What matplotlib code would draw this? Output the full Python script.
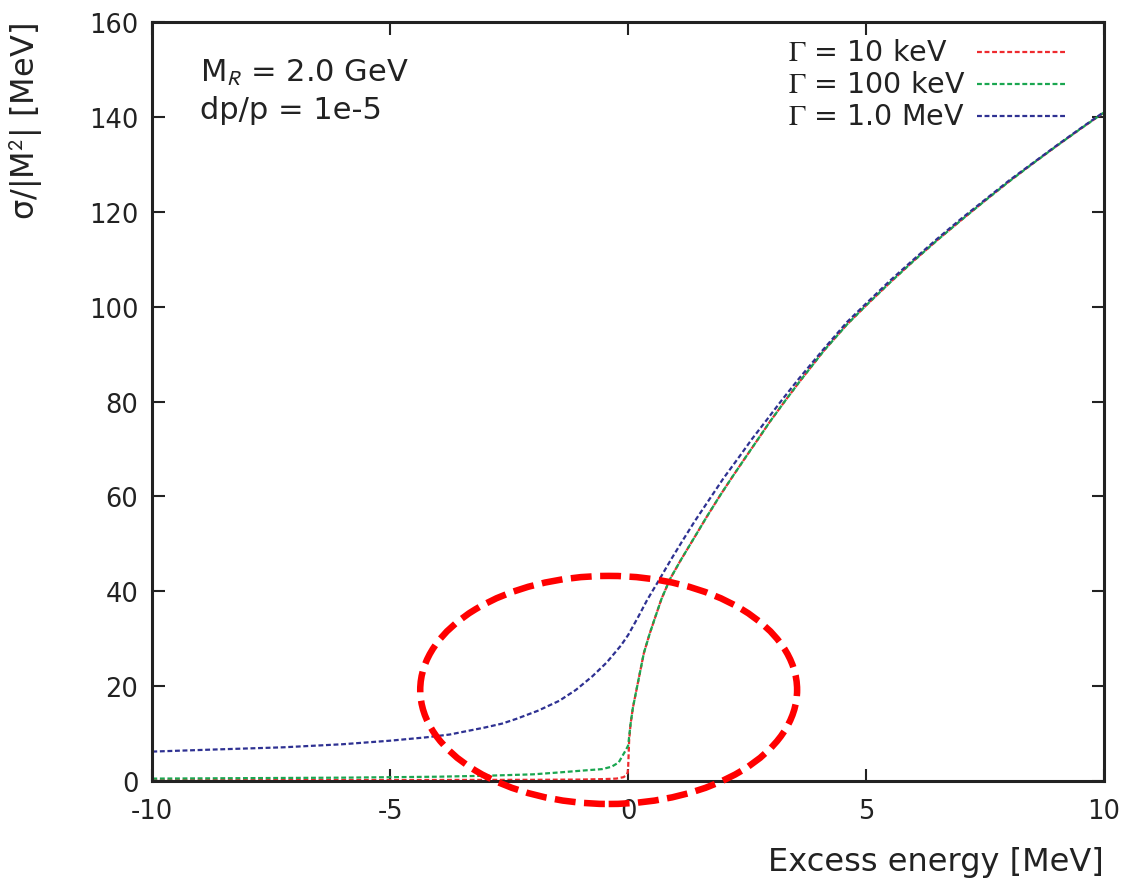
import numpy as np
import matplotlib
matplotlib.use("Agg")
import matplotlib.pyplot as plt
from matplotlib.patches import Ellipse
from matplotlib.lines import Line2D

# Fonts: sans text, serif Gamma via stix mathtext
plt.rcParams['font.family'] = ['DejaVu Sans']
plt.rcParams['mathtext.fontset'] = 'stix'
plt.rcParams['axes.unicode_minus'] = False

# Curve values
# Gamma = 1.0 MeV (blue)
e_blue = [-10, -8.5, -7.25, -6, -5, -4.25, -3.75, -3, -2.65, -2.35, -1.9, -1.45,
          -1.1, -0.75, -0.45, -0.15, 0.0, 0.2, 0.4, 0.65, 0.9, 1.15, 1.4, 1.7,
          2.0, 2.35, 2.6, 2.9, 3.25, 3.6, 4.1, 4.6, 5.0, 5.5, 6.0, 6.5, 7.0,
          7.5, 8.0, 8.5, 9.0, 9.5, 10]
s_blue = [6.2, 6.7, 7.1, 7.75, 8.5, 9.2, 9.8, 11.3, 12.1, 13.1, 14.8, 16.9,
          19.2, 22.1, 25.0, 28.6, 30.8, 34.4, 38.2, 42.4, 46.7, 50.8, 54.8, 59.3,
          63.8, 68.6, 72.1, 76.0, 80.6, 85.0, 91.0, 96.8, 100.7, 105.5, 110.0, 114.4, 118.6,
          122.6, 126.6, 130.3, 134.0, 137.6, 141.1]

# Gamma = 100 keV (green)
e_green = [-10, -8, -6, -5, -4, -3, -2, -1.45, -0.95, -0.55, -0.35, -0.2, -0.12,
           -0.05, 0.0, 0.05, 0.1, 0.19, 0.33, 0.45, 0.56, 0.7, 0.88, 1.1, 1.37,
           1.65, 1.93, 2.2, 2.49, 2.75, 2.98, 3.3, 3.6, 4.1, 4.6, 5.0, 5.5, 6.0,
           6.5, 7.0, 7.5, 8.0, 8.5, 9.0, 9.5, 10]
s_green = [0.5, 0.6, 0.7, 0.8, 0.9, 1.1, 1.4, 1.8, 2.2, 2.5, 3.0, 3.9, 5.3,
           6.5, 7.5, 12.0, 15.5, 20.0, 27.0, 31.0, 34.3, 38.4, 42.6, 46.5, 51.0,
           55.7, 60.2, 64.3, 68.6, 72.4, 75.8, 80.2, 84.2, 90.6, 96.3, 100.3, 105.1, 109.7,
           114.1, 118.3, 122.4, 126.4, 130.2, 133.9, 137.5, 141.0]

# Gamma = 10 keV (red)
e_red = [-10, -5, -2, -1, -0.5, -0.25, -0.1, -0.04, -0.01, 0.0, 0.02, 0.05, 0.1,
         0.19, 0.33, 0.45, 0.56, 0.7, 0.88, 1.1, 1.37, 1.65, 1.93, 2.2, 2.49,
         2.75, 2.98, 3.3, 3.6, 4.1, 4.6, 5.0, 5.5, 6.0, 6.5, 7.0, 7.5, 8.0,
         8.5, 9.0, 9.5, 10]
s_red = [0.15, 0.2, 0.25, 0.3, 0.4, 0.5, 0.8, 1.2, 1.8, 3.0, 8.5, 12.0, 15.5,
         20.0, 27.0, 31.0, 34.3, 38.4, 42.6, 46.5, 51.0, 55.7, 60.2, 64.3, 68.6,
         72.4, 75.8, 80.2, 84.2, 90.6, 96.3, 100.3, 105.1, 109.7, 114.1, 118.3, 122.4, 126.4,
         130.2, 133.9, 137.5, 141.0]

labels = [r'$\Gamma$ = 10 keV', r'$\Gamma$ = 100 keV', r'$\Gamma$ = 1.0 MeV']
colors = ['#ee2a2e', '#1aa650', '#2e3192']

# Highlight ellipse (centre, width, height in data units)
ell_center = (-0.41, 19.2)
ell_width = 7.92
ell_height = 48.1

txt_col = '#222222'
fig = plt.figure(figsize=(11.41, 8.87), dpi=100)
ax = fig.add_axes([0.1335, 0.1184, 0.8341, 0.8553])

dash = (0, (2.2, 1.2))
for e, s, c in zip([e_red, e_green, e_blue], [s_red, s_green, s_blue], colors):
    ax.plot(e, s, color=c, lw=1.6, linestyle=dash)

ax.add_patch(Ellipse(ell_center, ell_width, ell_height, fill=False,
                     edgecolor='#ff0000', lw=4.7, linestyle=(0, (3.2, 1.3)),
                     clip_on=False, zorder=5))

ax.set_xlim(-10, 10)
ax.set_ylim(0, 160)
ax.set_xticks([-10, -5, 0, 5, 10])
ax.set_yticks(np.arange(0, 161, 20))
ax.tick_params(direction='in', length=9, width=1.5, top=True, right=True,
               labelsize=18.5, colors=txt_col)
ax.tick_params(axis='x', pad=12)
ax.tick_params(axis='y', pad=10)
for sp in ax.spines.values():
    sp.set_linewidth(2.2)
    sp.set_color(txt_col)

ax.set_xlabel('Excess energy [MeV]', fontsize=23, loc='right', color=txt_col, labelpad=16)
ax.set_ylabel(r'σ/|M$^\mathsf{2}$| [MeV]', fontsize=23, loc='top', color=txt_col)
ax.yaxis.set_label_coords(-0.113, 1.0)

ax.text(0.05, 0.935, r'M$_\mathsf{R}$ = 2.0 GeV', transform=ax.transAxes,
        fontsize=22, color=txt_col, va='center')
ax.text(0.05, 0.885, 'dp/p = 1e-5', transform=ax.transAxes,
        fontsize=22, color=txt_col, va='center')

# key: text column on the left, line samples on the right
key_y = [0.961, 0.919, 0.877]
for lab, c, y in zip(labels, colors, key_y):
    ax.text(0.668, y, lab, transform=ax.transAxes, fontsize=20.5,
            color=txt_col, va='center')
    ax.add_line(Line2D([0.8665, 0.961], [y, y], transform=ax.transAxes,
                       color=c, lw=1.6, linestyle=dash))

fig.savefig('out.png', dpi=100)
